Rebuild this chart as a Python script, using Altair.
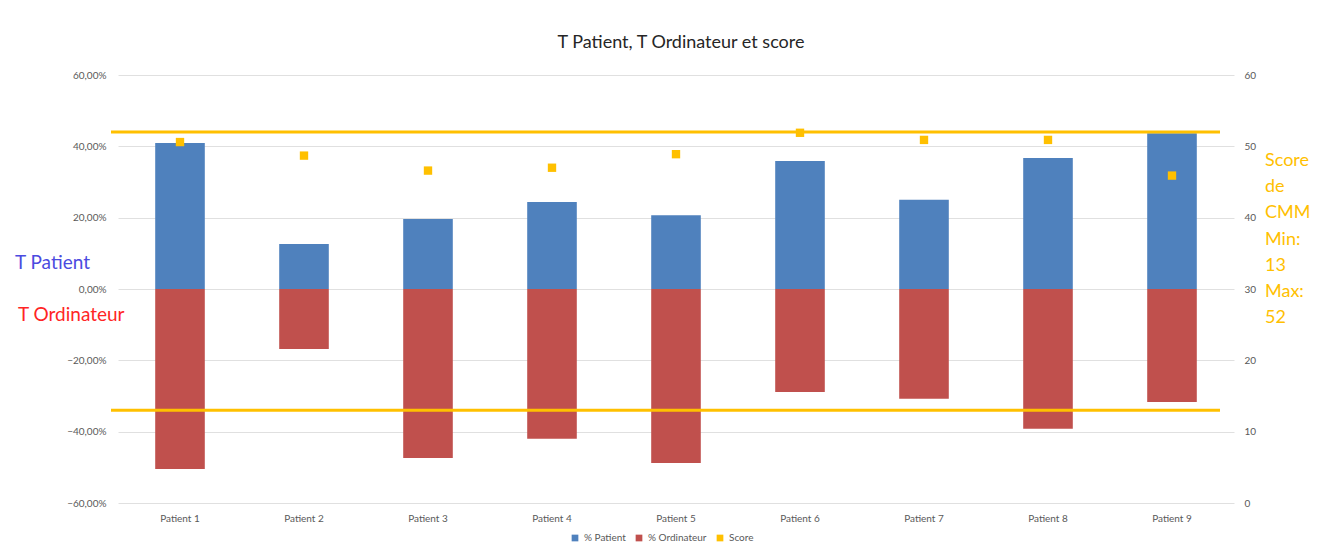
import altair as alt
import pandas as pd

patients = [f"Patient {i}" for i in range(1, 10)]
pct_patient = [40.9, 12.6, 19.6, 24.4, 20.7, 35.9, 25.0, 36.7, 43.7]
pct_ordinateur = [-50.5, -16.8, -47.4, -42.0, -48.8, -28.9, -30.8, -39.2, -31.7]
scores = [50.6, 48.7, 46.6, 47.0, 48.9, 51.9, 50.9, 50.9, 45.9]
score_limits = [13, 52]

series_names = ["% Patient", "% Ordinateur", "Score"]
series_colors = ["#4F81BD", "#C0504D", "#FFC000"]

FONT = "Lato"
W, H = 1116, 428

bars_df = pd.DataFrame({
    "patient": patients * 2,
    "series": ["% Patient"] * 9 + ["% Ordinateur"] * 9,
    "value": pct_patient + pct_ordinateur,
})
score_df = pd.DataFrame({"patient": patients, "score": scores, "series": ["Score"] * 9})
limits_df = pd.DataFrame({"limit": score_limits})
one = pd.DataFrame({"a": [0]})

x_enc = alt.X(
    "patient:N", sort=patients, title=None,
    scale=alt.Scale(paddingInner=0.6, paddingOuter=0.3),
    axis=alt.Axis(labelAngle=0, domain=False, ticks=False, labelColor="#595959",
                  labelFontSize=10, labelFont=FONT, labelPadding=10),
)
color_enc = alt.Color(
    "series:N", title=None,
    scale=alt.Scale(domain=series_names, range=series_colors),
    legend=alt.Legend(orient="none", legendX=452, legendY=458, direction="horizontal",
                      symbolType="square", symbolSize=45, labelFontSize=10,
                      labelFont=FONT, labelColor="#595959", columnPadding=8,
                      symbolStrokeWidth=0),
)

bars = alt.Chart(bars_df).mark_bar().encode(
    x=x_enc,
    y=alt.Y("value:Q", stack=None, title=None,
            scale=alt.Scale(domain=[-60, 60], nice=False),
            axis=alt.Axis(values=[-60, -40, -20, 0, 20, 40, 60], domain=False, ticks=False,
                          labelExpr="replace(format(datum.value, '.2f'), '.', ',') + '%'",
                          labelColor="#595959", labelFontSize=10, labelFont=FONT,
                          labelPadding=12, gridColor="#e0e0e0", grid=True)),
    color=color_enc,
)

score_axis = alt.Axis(orient="right", values=[0, 10, 20, 30, 40, 50, 60], domain=False,
                      ticks=False, grid=False, labelColor="#595959", labelFontSize=10,
                      labelFont=FONT, labelPadding=10)
score_scale = alt.Scale(domain=[0, 60], nice=False)

rules = alt.Chart(limits_df).mark_rule(color="#FFC000", strokeWidth=3).encode(
    x=alt.value(-7), x2=alt.value(1102),
    y=alt.Y("limit:Q", scale=score_scale, axis=score_axis, title=None),
)
points = alt.Chart(score_df).mark_square(size=70, opacity=1).encode(
    x=alt.X("patient:N", sort=patients),
    y=alt.Y("score:Q", scale=score_scale, axis=score_axis, title=None),
    color=alt.Color("series:N", scale=alt.Scale(domain=series_names, range=series_colors)),
)
score_layer = alt.layer(rules, points)

title_txt = alt.Chart(one).mark_text(fontSize=18, font=FONT, color="#262626",
                                     align="center", baseline="middle").encode(
    x=alt.value(W / 2 + 5), y=alt.value(-32), text=alt.value("T Patient, T Ordinateur et score"))
t_patient = alt.Chart(one).mark_text(fontSize=19, font=FONT, color="#4B4BE0",
                                     align="left", baseline="middle").encode(
    x=alt.value(-103), y=alt.value(188), text=alt.value("T Patient"))
t_ordi = alt.Chart(one).mark_text(fontSize=19, font=FONT, color="#FF2525",
                                  align="left", baseline="middle").encode(
    x=alt.value(-100), y=alt.value(240), text=alt.value("T Ordinateur"))
score_txt = alt.Chart(one).mark_text(fontSize=18, font=FONT, color="#FFC000",
                                     align="left", baseline="middle", lineHeight=26.2).encode(
    x=alt.value(1147), y=alt.value(86),
    text=alt.value(["Score", "de", "CMM", "Min:", "13", "Max:", "52"]))

chart = alt.layer(bars, score_layer, title_txt, t_patient, t_ordi, score_txt).resolve_scale(
    y="independent"
).properties(
    width=W, height=H,
    autosize=alt.AutoSizeParams(type="none"),
    padding={"left": 110, "top": 67, "right": 77, "bottom": 42},
    background="white",
).configure_view(stroke=None)

chart.save("out.html", embed_options={"renderer": "svg", "actions": False})
